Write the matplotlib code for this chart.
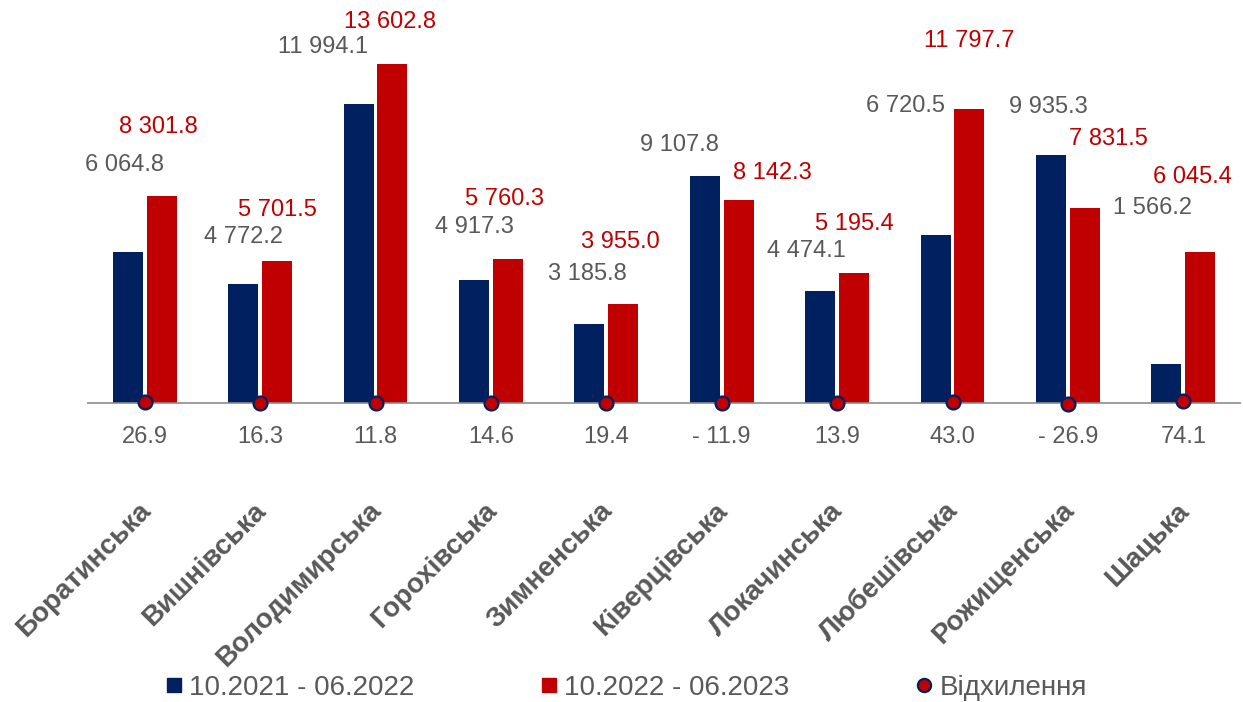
import matplotlib.pyplot as plt
from matplotlib.lines import Line2D

plt.rcParams['font.family'] = ['Liberation Sans', 'DejaVu Sans']

# громади та показники за два періоди
communities = ['Боратинська', 'Вишнівська', 'Володимирська', 'Горохівська',
               'Зимненська', 'Ківерцівська', 'Локачинська', 'Любешівська',
               'Рожищенська', 'Шацька']
period_2021 = [6064.8, 4772.2, 11994.1, 4917.3, 3185.8,
               9107.8, 4474.1, 6720.5, 9935.3, 1566.2]
period_2022 = [8301.8, 5701.5, 13602.8, 5760.3, 3955.0,
               8142.3, 5195.4, 11797.7, 7831.5, 6045.4]
deviation = [26.9, 16.3, 11.8, 14.6, 19.4, -11.9, 13.9, 43.0, -26.9, 74.1]

series_names = ['10.2021 - 06.2022', '10.2022 - 06.2023', 'Відхилення']

# зсуви підписів значень відносно верху стовпця (пікселі)
blue_label_shift = [(-3, 87), (0, 47), (-35, 57), (0, 53), (-2, 50),
                    (-25, 31), (-14, 40), (-30, 129), (-3, 48), (-14, 156)]
red_label_shift = [(-3, 69), (0, 51), (-2, 42), (-3, 60), (-3, 62),
                   (34, 27), (0, 49), (0, 68), (24, 69), (-8, 75)]

NAVY = '#002060'
RED = '#C00000'
GREY = '#595959'

fig = plt.figure(figsize=(12.43, 7.02), dpi=100)
ax = fig.add_axes([0.070, 0.4117, 0.9284, 0.5826])

x = list(range(len(communities)))
w = 0.26
off = 0.147
xb = [i - off for i in x]
xr = [i + off for i in x]

ax.bar(xb, period_2021, width=w, color=NAVY, linewidth=0)
ax.bar(xr, period_2022, width=w, color=RED, linewidth=0)
ax.axhline(0, color='#8c8c8c', lw=1.2, zorder=3)
ax.plot(x, deviation, linestyle='none', marker='o', markersize=10,
        markerfacecolor=RED, markeredgecolor=NAVY, markeredgewidth=1.6,
        zorder=4, clip_on=False)

def fmt(v):
    s = f'{abs(v):,.1f}'.replace(',', ' ')
    return ('- ' + s) if v < 0 else s

for i in x:
    ax.annotate(fmt(period_2021[i]), (xb[i], period_2021[i]),
                xytext=blue_label_shift[i], textcoords='offset pixels',
                ha='center', va='center', fontsize=17, color=GREY)
    ax.annotate(fmt(period_2022[i]), (xr[i], period_2022[i]),
                xytext=red_label_shift[i], textcoords='offset pixels',
                ha='center', va='center', fontsize=17, color=RED)
    ax.annotate(fmt(deviation[i]), (i, 0), xytext=(0, -34),
                textcoords='offset pixels', ha='center', va='center',
                fontsize=17, color=GREY)
    ax.annotate(communities[i], (i, 0), xytext=(2, -104),
                textcoords='offset pixels', ha='right', va='center',
                rotation=45, rotation_mode='anchor', fontsize=20,
                fontweight='bold', color=GREY)

ax.set_xlim(-0.5, len(communities) - 0.5)
ax.set_ylim(-400, 16000)
ax.axis('off')

handles = [
    Line2D([], [], linestyle='none', marker='s', markersize=9.5,
           markerfacecolor=NAVY, markeredgecolor=NAVY),
    Line2D([], [], linestyle='none', marker='s', markersize=9.5,
           markerfacecolor=RED, markeredgecolor=RED),
    Line2D([], [], linestyle='none', marker='o', markersize=9.5,
           markerfacecolor=RED, markeredgecolor=NAVY, markeredgewidth=1.6),
]
fig.legend(handles, series_names, loc='center', ncol=3,
           bbox_to_anchor=(627 / 1243, 1 - 688 / 702), frameon=False,
           fontsize=20, labelcolor=GREY, handlelength=0.5,
           handletextpad=0.3, columnspacing=4.6, borderaxespad=0)

fig.savefig('out.png', dpi=100)
